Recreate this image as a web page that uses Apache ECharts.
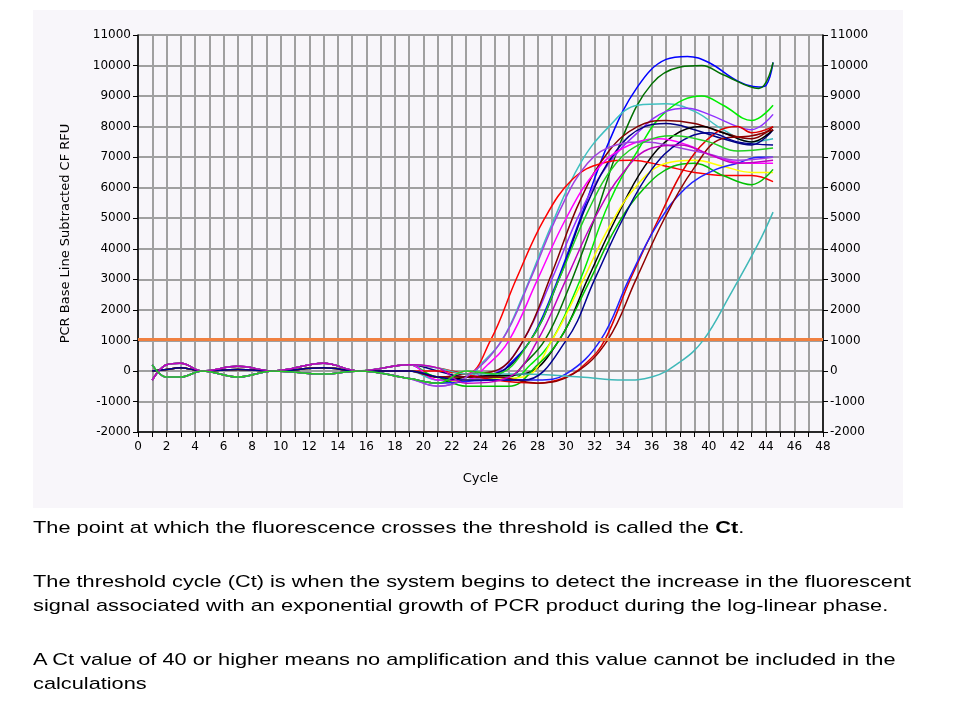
<!DOCTYPE html>
<html>
<head>
<meta charset="utf-8">
<script src="https://cdn.jsdelivr.net/npm/echarts@6/dist/echarts.min.js"></script>
<style>
  body { margin: 0; background: #fff; }
  #chart { position: absolute; left: 0; top: 0; width: 960px; height: 720px; }
  .txt { position: absolute; left: 33px; width: 692px; font-family: "Liberation Sans", Arial, sans-serif; font-size: 17px; line-height: 24px; color: #000;
         transform: scaleX(1.28); transform-origin: 0 0; }
</style>
</head>
<body>
<div id="chart"></div>
<div class="txt" style="top:516px">The point at which the fluorescence crosses the threshold is called the <b>Ct</b>.</div>
<div class="txt" style="top:570px">The threshold cycle (Ct) is when the system begins to detect the increase in the fluorescent signal associated with an exponential growth of PCR product during the log-linear phase.</div>
<div class="txt" style="top:648px">A Ct value of 40 or higher means no amplification and this value cannot be included in the calculations</div>
<script>
// baseline wobble variants, cycles 1..19
var baseA = [[1,-300],[2,200],[3,250],[4.5,0],[7,150],[9.5,0],[13,250],[15.5,0],[19,200]];
var baseB = [[1,200],[2,-200],[3,-200],[4.5,0],[7,-200],[9.5,0],[13,-100],[15.5,0],[19,-250]];
var baseC = [[1,0],[2,50],[3,100],[4.5,0],[7,50],[9.5,0],[13,100],[15.5,0],[19,0]];

var colors = ['#0000ff','#007000','#40c0c0','#00ee00','#9030ff','#800000','#000080','#000000','#ff0000','#ff00ff',
              '#ffff00','#00c000','#e00000','#2020ff','#900000','#40b8b8','#a040e0','#000090','#c000c0','#20d020'];
var bases = [baseA, baseB, baseC, baseA, baseB, baseC, baseA, baseB, baseC, baseA,
             baseB, baseC, baseA, baseB, baseC, baseA, baseB, baseC, baseA, baseB];

var rises = [
  [[21,-300],[23,-300],[25,-200],[26,200],[27.5,1000],[29,2500],[31,5000],[33,7500],[35,9300],[37,10200],[38.5,10300],[40,10100],[42,9500],[43.5,9300],[44,9350],[44.5,10100]],
  [[21,-400],[23,-200],[26,-200],[27,200],[28.5,1000],[30,2500],[32,5000],[34,7700],[36,9400],[38,9950],[39.5,10000],[41,9700],[43.5,9250],[44.5,10100]],
  [[21,-300],[23,-300],[24,200],[25.5,1000],[27,2500],[29,4800],[31,6800],[33,8000],[35,8700],[37,8750],[39,8500],[41,7900],[43,7500],[44.5,7600]],
  [[21,-200],[23,-200],[26,-300],[27.5,200],[29,1000],[31,3000],[33,5500],[35,7200],[37,8500],[39.5,9000],[41,8700],[43,8200],[44.5,8700]],
  [[21,-500],[23,-300],[25,-100],[27,1000],[29,3000],[31,5200],[33,6800],[35,7800],[37,8500],[38.5,8600],[40,8400],[42,8000],[43,7900],[44.5,8400]],
  [[21,-200],[23,-100],[25,0],[27,1000],[29,3200],[31,5600],[33,7200],[35,8000],[37,8200],[39,8100],[41,7800],[43,7600],[44.5,8000]],
  [[21,0],[23,-200],[25,-100],[27.5,1000],[29.5,3000],[31.5,5500],[33.5,7200],[35.5,8000],[37,8100],[39,7900],[41,7600],[43,7400],[44.5,7900]],
  [[21,-400],[23,-200],[27,-100],[29.5,1000],[31.5,3000],[33.5,5000],[35.5,6700],[37.5,7700],[39.5,8000],[41,7800],[43,7500],[44.5,7900]],
  [[21,0],[23,-100],[24.7,1000],[26.5,3000],[28.5,5000],[30.5,6300],[32.5,6800],[34.5,6900],[37,6700],[39,6500],[41,6400],[43,6400],[44.5,6200]],
  [[21,-300],[23,-300],[24.5,200],[26,1000],[28,3000],[30,5000],[32,6500],[34,7300],[36.5,7600],[38.5,7400],[40.5,7000],[43,6800],[44.5,6800]],
  [[21,-400],[23,-300],[27,-200],[29,1000],[31,2800],[33,4700],[35,6100],[37,6800],[39,6900],[41,6700],[43,6500],[44.5,6500]],
  [[21,-200],[23,-500],[26,-500],[28,200],[29.5,1000],[31.5,2800],[33.5,4700],[35.5,6000],[37.5,6700],[39,6800],[41,6400],[43,6100],[44.5,6600]],
  [[21,100],[25,-300],[28,-400],[30,-200],[31.5,300],[32.7,1000],[34.5,3000],[36.5,5000],[38.5,6800],[40.5,7800],[42,8000],[43,7800],[44.5,8000]],
  [[21,-400],[25,-300],[28,-300],[30,-100],[32.4,1000],[34.4,3000],[36.4,4800],[38.4,6000],[40.5,6600],[42,6800],[43.5,7000],[44.5,7000]],
  [[21,-200],[25,-200],[28,-400],[30.5,-100],[32.9,1000],[34.9,3000],[36.9,5000],[38.9,6600],[40.9,7600],[43,7700],[44.5,7900]],
  [[21,100],[23,-100],[27,-100],[31,-200],[34,-300],[36,-200],[38,300],[39.6,1000],[41.5,2500],[43.5,4200],[44.5,5200]],
  [[21,-500],[23,-200],[25.5,1000],[27.5,3000],[29.5,5200],[31.5,6800],[33.5,7400],[35.5,7500],[38,7300],[40,7100],[42,6900],[44.5,7000]],
  [[21,-200],[23,-300],[27,-300],[30,1000],[32,3000],[34,5000],[36,6600],[38,7500],[40,7800],[42,7500],[44.5,7400]],
  [[21,100],[23,-400],[26,-200],[28,1000],[30,3000],[32,5000],[34,6500],[36,7300],[38,7400],[40,7100],[42,6800],[44.5,6900]],
  [[21,-400],[23,0],[25,-100],[27.5,1000],[29.5,3000],[31.5,5200],[33.5,6800],[35.5,7500],[37.5,7700],[40,7500],[42,7200],[44.5,7300]]
];
var threshold = 1050;

var chart = echarts.init(document.getElementById('chart'));
var series = rises.map(function (r, i) {
  return {
    type: 'line', smooth: 0.4, symbol: 'none', silent: true,
    lineStyle: { width: 1.5, color: colors[i] },
    data: bases[i].concat(r)
  };
});
series.push({
  type: 'line', data: [], silent: true,
  markLine: { symbol: 'none', silent: true, label: { show: false },
    lineStyle: { color: '#f08040', width: 3, type: 'solid' },
    data: [{ yAxis: threshold }] }
});

var axisFont = { fontFamily: 'DejaVu Sans', fontSize: 12, color: '#000' };
function yAx(pos) {
  return {
    type: 'value', position: pos, min: -2000, max: 11000, interval: 1000,
    axisLine: { show: true, lineStyle: { color: '#000', width: 1.5 } },
    axisTick: { show: true, length: 5, lineStyle: { color: '#000' } },
    axisLabel: Object.assign({ margin: 7, formatter: function (v) { return String(v); } }, axisFont),
    splitLine: { show: pos === 'left', lineStyle: { color: '#a0a0a0', width: 2 } }
  };
}
chart.setOption({
  backgroundColor: '#fff',
  animation: false,
  graphic: [{ type: 'rect', z: -10, shape: { x: 33, y: 10, width: 870, height: 498 }, style: { fill: '#f8f6fa' } }],
  grid: { left: 138, right: 137, top: 35, bottom: 288 },
  xAxis: {
    type: 'value', min: 0, max: 48, interval: 1,
    name: 'Cycle', nameLocation: 'middle', nameGap: 40,
    nameTextStyle: { fontFamily: 'DejaVu Sans', fontSize: 13, color: '#000' },
    axisLine: { onZero: false, lineStyle: { color: '#000', width: 1.5 } },
    axisTick: { length: 5, lineStyle: { color: '#000' } },
    axisLabel: Object.assign({ margin: 9, formatter: function (v) { return v % 2 === 0 ? String(v) : ''; } }, axisFont),
    splitLine: { show: true, lineStyle: { color: '#a0a0a0', width: 2 } }
  },
  yAxis: [
    Object.assign(yAx('left'), { name: 'PCR Base Line Subtracted CF RFU', nameLocation: 'middle', nameGap: 66,
      nameTextStyle: { fontFamily: 'DejaVu Sans', fontSize: 13, color: '#000' } }),
    yAx('right')
  ],
  series: series
});
</script>
</body>
</html>
